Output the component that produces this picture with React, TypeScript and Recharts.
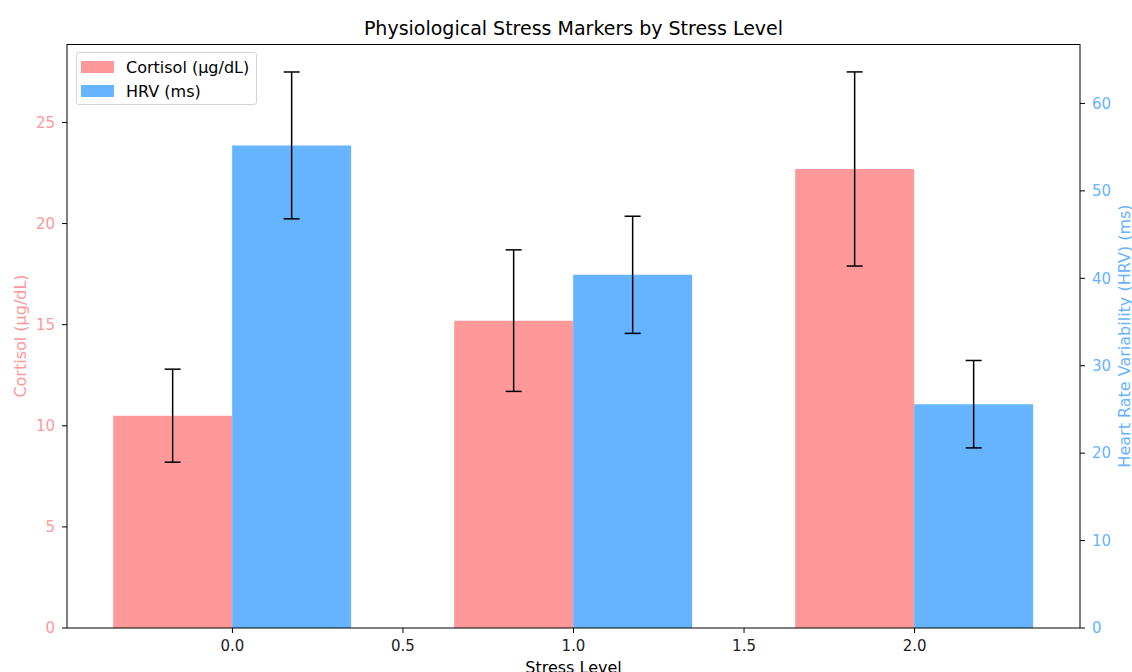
import React from 'react'
import { Bar, ComposedChart, ErrorBar, XAxis, YAxis } from 'recharts'

const levels = ['0', '1', '2']
const positions = [0, 1, 2]
const cortisol = [10.5, 15.2, 22.7]
const cortisolErr = [2.3, 3.5, 4.8]
const hrv = [55.2, 40.4, 25.6]
const hrvErr = [8.4, 6.7, 5.0]

const xTicks = [0, 0.5, 1, 1.5, 2]
const leftTicks = [0, 5, 10, 15, 20, 25]
const rightTicks = [0, 10, 20, 30, 40, 50, 60]

const data = levels.map((level, i) => ({
  level,
  pos: positions[i],
  cortisol: cortisol[i],
  cortisolErr: cortisolErr[i],
  hrv: hrv[i],
  hrvErr: hrvErr[i],
}))

const PINK = '#ff9999'
const BLUE = '#66b3ff'
const FONT = "'DejaVu Sans', sans-serif"

function LegendBox() {
  const items = [
    { label: 'Cortisol (µg/dL)', color: PINK },
    { label: 'HRV (ms)', color: BLUE },
  ]
  return (
    <div
      style={{
        position: 'absolute',
        left: 76,
        top: 52,
        width: 181,
        height: 53,
        boxSizing: 'border-box',
        border: '1px solid #d6d6d6',
        borderRadius: 3,
        background: 'rgba(255,255,255,0.8)',
        padding: '2px 0 0 4px',
        fontFamily: FONT,
        fontSize: 16,
        color: '#000',
      }}
    >
      {items.map(it => (
        <div key={it.label} style={{ display: 'flex', alignItems: 'center', height: 24 }}>
          <span style={{ width: 33, height: 12, background: it.color, marginRight: 12, flexShrink: 0 }} />
          <span style={{ whiteSpace: 'nowrap' }}>{it.label}</span>
        </div>
      ))}
    </div>
  )
}

export default function App() {
  return (
    <div style={{ position: 'absolute', left: 0, top: 0, width: 1132, height: 672, background: '#fff', overflow: 'hidden' }}>
      <ComposedChart
        width={1132}
        height={672}
        data={data}
        margin={{ top: 44, right: 0, bottom: 0, left: 0 }}
        barCategoryGap='15%'
        barGap={0}
        style={{ fontFamily: FONT }}
      >
        <XAxis xAxisId='cat' dataKey='level' hide height={0} padding={{ left: -5, right: -5 }} />
        <XAxis
          xAxisId='num'
          dataKey='pos'
          type='number'
          domain={[-0.485, 2.485]}
          ticks={xTicks}
          allowDataOverflow
          tickFormatter={v => Number(v).toFixed(1)}
          height={44}
          stroke='#000'
          tick={{ fill: '#222', fontSize: 15 }}
          tickSize={5}
          tickMargin={7}
          label={{ value: 'Stress Level', position: 'insideBottom', offset: -1, fill: '#000', fontSize: 16 }}
        />
        <YAxis
          yAxisId='left'
          domain={[0, 28.88]}
          ticks={leftTicks}
          allowDataOverflow
          width={67}
          stroke='#000'
          tick={{ fill: PINK, fontSize: 15 }}
          tickSize={5}
          tickMargin={7}
          label={{ value: 'Cortisol (µg/dL)', angle: -90, position: 'insideLeft', offset: 20, fill: PINK, fontSize: 16, style: { textAnchor: 'middle' } }}
        />
        <YAxis
          yAxisId='right'
          orientation='right'
          domain={[0, 66.8]}
          ticks={rightTicks}
          allowDataOverflow
          width={52}
          stroke='#000'
          tick={{ fill: BLUE, fontSize: 15 }}
          tickSize={5}
          tickMargin={7}
          label={{ value: 'Heart Rate Variability (HRV) (ms)', angle: -90, position: 'insideRight', offset: 8, fill: BLUE, fontSize: 16, style: { textAnchor: 'middle' } }}
        />
        <Bar xAxisId='cat' yAxisId='left' dataKey='cortisol' name='Cortisol (µg/dL)' fill={PINK} isAnimationActive={false}>
          <ErrorBar dataKey='cortisolErr' width={8} stroke='#000' strokeWidth={1.5} direction='y' />
        </Bar>
        <Bar xAxisId='cat' yAxisId='right' dataKey='hrv' name='HRV (ms)' fill={BLUE} isAnimationActive={false}>
          <ErrorBar dataKey='hrvErr' width={8} stroke='#000' strokeWidth={1.5} direction='y' />
        </Bar>
      </ComposedChart>
      <div style={{ position: 'absolute', left: 67, top: 44, width: 1013, height: 0, borderTop: '1px solid #000' }} />
      <div
        style={{
          position: 'absolute',
          top: 17,
          left: 67,
          width: 1013,
          textAlign: 'center',
          fontFamily: FONT,
          fontSize: 19,
          lineHeight: '22px',
          color: '#000',
        }}
      >
        Physiological Stress Markers by Stress Level
      </div>
      <LegendBox />
    </div>
  )
}
